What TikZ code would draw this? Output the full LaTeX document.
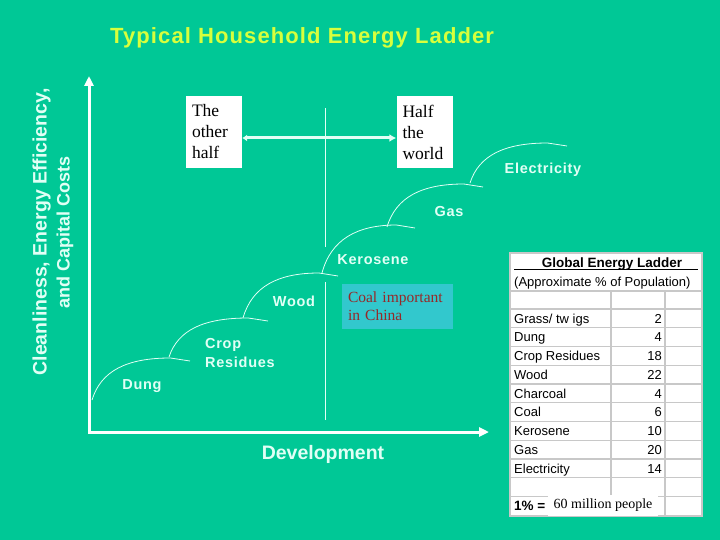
\documentclass[tikz,border=0pt]{standalone}
\usepackage{fontspec}
\setmainfont{Liberation Sans}
\newfontfamily\timesf{Liberation Serif}
\newfontfamily\spsf[LetterSpace=5]{Liberation Sans}
\usetikzlibrary{arrows.meta}
\definecolor{bg}{RGB}{0,200,150}
\definecolor{ttl}{RGB}{215,255,60}
\definecolor{lbl}{RGB}{225,255,245}
\definecolor{coalbg}{RGB}{50,200,205}
\definecolor{coaltx}{RGB}{150,40,40}
\definecolor{grid}{RGB}{200,200,200}
\tikzset{
  lab/.style={text=lbl, font=\spsf\fontsize{14.5}{19}\selectfont\bfseries, inner sep=0pt},
  wbox/.style={fill=white, draw=none, minimum width=56pt, minimum height=72pt, text width=44pt, inner xsep=6pt, align=left, font=\timesf\fontsize{17.5}{21}\selectfont},
  tcell/.style={font=\fontsize{13}{15}\selectfont, inner sep=0pt, text=black},
  stepline/.style={draw=lbl, line width=0.8pt},
  axis/.style={draw=white, line width=3pt},
}
\begin{document}
\begin{tikzpicture}[x=1pt,y=-1pt]
\useasboundingbox (0,0) rectangle (720,540);
\fill[bg] (0,0) rectangle (720,540);
% title
\node[text=ttl, font=\spsf\fontsize{22}{26}\selectfont\bfseries, anchor=west, inner sep=0pt] (title) at (110,38) {Typical Household Energy Ladder};
% y axis label
\node[text=lbl, font=\fontsize{18}{23}\selectfont\bfseries, rotate=90, align=center, inner sep=0pt] (ylab) at (53,232) {{\fontsize{19.5}{23}\selectfont Cleanliness, Energy Efficiency,}\\and Capital Costs};
% axes
\draw[axis, -{Triangle[length=10pt,width=9pt]}] (89,432) -- (89,76);
\draw[axis, -{Triangle[length=10pt,width=9pt]}] (88,432) -- (489,432);
% divider
\draw[lbl, line width=0.8pt] (325,108) -- (325,247);
\draw[lbl, line width=0.8pt] (325,282) -- (325,420);
% ladder steps
\foreach \sx/\sy/\h/\w in {92/400/42/98, 169/357/39/99, 243/318/45/95, 322/273/48/93, 387/227/43/96, 470/183/40/97}{
  \draw[stepline] (\sx,\sy) .. controls (\sx+9,\sy-0.7*\h) and (\sx+35,\sy-\h) .. (\sx+0.8*\w,\sy-\h) -- (\sx+\w,\sy-\h+3);
}
% step labels
\node[lab] (dung) at (142,386) {Dung};
\node[lab, align=left, anchor=west] (crop) at (205,353) {Crop\\Residues};
\node[lab] (wood) at (294,301) {Wood};
\node[lab] (kero) at (373,260) {Kerosene};
\node[lab] (gas) at (449,212) {Gas};
\node[lab] (elec) at (543,170) {Electricity};
\node[text=lbl, font=\fontsize{19.5}{24}\selectfont\bfseries, inner sep=0pt] (dev) at (323,454) {Development};
% boxes
\node[wbox] (other) at (214,132) {The\\other\\half};
\node[wbox] (half) at (424.5,132) {Half\\the\\world};
\draw[draw=lbl, line width=3pt, {Latex[length=5pt,width=7pt]}-{Latex[length=7pt,width=8pt]}] ([yshift=-6pt]other.east) -- ([yshift=-6pt]half.west);
% coal box
\node[fill=coalbg, minimum width=111pt, minimum height=45pt, text width=99pt, inner xsep=6pt, align=left, text=coaltx, font=\timesf\fontsize{15.5}{18}\selectfont] (coal) at (397.5,306.5) {Coal important\\in China};
% table
\fill[white] (510,253) rectangle (702,516);
\foreach \y in {291,309,327.75,346.5,365.25,384,402.75,421.5,440.25,459,477.75,496.5}{
  \draw[grid, line width=1.2pt] (511,\y) -- (701,\y);
}
\draw[grid, line width=1.2pt] (611,291) -- (611,516);
\draw[grid, line width=1.2pt] (665,291) -- (665,516);
\draw[grid, line width=1.2pt] (510,253) rectangle (702,516);
\draw[black, line width=0.8pt] (514,269.5) -- (698,269.5);
\node[tcell, font=\fontsize{13.5}{15}\selectfont\bfseries, anchor=base] (tt) at (612,267.5) {Global Energy Ladder};
\node[tcell, anchor=base west] (tsub) at (514,286.5) {(Approximate \% of Population)};
\node[tcell, anchor=base west] (r0) at (514,323) {Grass/ tw igs};
\node[tcell, anchor=base east] (v0) at (662,323) {2};
\foreach \n/\lab/\val in {1/Dung/4, 2/Crop Residues/18, 3/Wood/22, 4/Charcoal/4, 5/Coal/6, 6/Kerosene/10, 7/Gas/20, 8/Electricity/14}{
  \node[tcell, anchor=base west] (r\n) at (514,323+18.75*\n) {\lab};
  \node[tcell, anchor=base east] (v\n) at (662,323+18.75*\n) {\val};
}
\node[tcell, font=\fontsize{13.5}{15}\selectfont\bfseries, anchor=base west] (onep) at (514,510.5) {1\% =};
\node[fill=white, minimum width=110pt, minimum height=21pt, inner sep=0pt, font=\timesf\fontsize{14}{16}\selectfont] (mil) at (603,505.5) {60 million people};
\end{tikzpicture}
\end{document}
